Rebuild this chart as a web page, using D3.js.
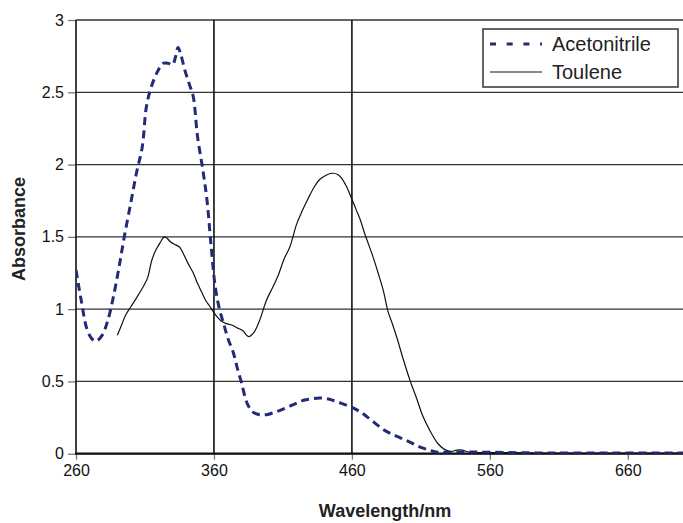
<!DOCTYPE html>
<html>
<head>
<meta charset="utf-8">
<script src="https://cdn.jsdelivr.net/npm/d3@7"></script>
<style>
  body { margin: 0; background: #fff; }
  svg { display: block; font-family: "Liberation Sans", Arial, sans-serif; }
</style>
</head>
<body>
<svg id="chart" width="683" height="523"></svg>
<script>
// absorbance spectra
var acetoWl  = [260, 264, 268, 272, 275, 279, 283, 287, 291, 295, 300, 304, 308, 311, 314, 317, 320, 323, 327, 330, 332, 334, 336, 339, 342, 345, 348, 352, 355, 358, 361, 364, 367, 370, 374, 377, 380, 384, 388, 393, 398, 405, 413, 420, 425, 431, 437, 442, 446, 452, 460, 466, 471, 477, 483, 489, 495, 502, 509, 516, 522, 530, 540, 560, 600, 650, 700];
var acetoAbs = [1.27, 1.05, 0.86, 0.79, 0.78, 0.82, 0.92, 1.08, 1.28, 1.50, 1.75, 1.95, 2.12, 2.40, 2.52, 2.60, 2.66, 2.70, 2.70, 2.69, 2.74, 2.81, 2.76, 2.65, 2.56, 2.47, 2.20, 1.96, 1.75, 1.43, 1.15, 1.00, 0.90, 0.80, 0.70, 0.59, 0.49, 0.35, 0.29, 0.27, 0.27, 0.29, 0.32, 0.35, 0.37, 0.38, 0.385, 0.38, 0.37, 0.35, 0.32, 0.29, 0.255, 0.21, 0.165, 0.135, 0.11, 0.08, 0.047, 0.025, 0.01, 0.01, 0.012, 0.01, 0.005, 0.005, 0.005];

var touleneWl  = [290, 293, 296, 300, 304, 309, 312, 315, 318, 321, 324, 326, 328, 331, 335, 338, 341, 345, 348, 351, 354, 357, 359, 362, 365, 369, 373, 377, 381, 385, 389, 393, 398, 402, 406, 411, 415, 420, 424, 428, 433, 437, 442, 446, 450, 453, 456, 460, 463, 466, 469, 472, 475, 479, 483, 486, 490, 493, 497, 502, 507, 511, 516, 522, 527, 532, 536, 540, 545, 560, 600, 650, 700];
var touleneAbs = [0.82, 0.89, 0.96, 1.02, 1.08, 1.16, 1.22, 1.34, 1.41, 1.46, 1.50, 1.49, 1.47, 1.45, 1.43, 1.38, 1.32, 1.25, 1.18, 1.12, 1.06, 1.02, 0.99, 0.95, 0.92, 0.90, 0.89, 0.87, 0.85, 0.81, 0.84, 0.92, 1.06, 1.14, 1.22, 1.35, 1.43, 1.59, 1.68, 1.76, 1.85, 1.90, 1.93, 1.94, 1.93, 1.90, 1.85, 1.76, 1.69, 1.62, 1.53, 1.45, 1.37, 1.25, 1.12, 0.99, 0.88, 0.79, 0.66, 0.51, 0.38, 0.27, 0.17, 0.074, 0.03, 0.015, 0.025, 0.025, 0.01, 0.008, 0.005, 0.005, 0.005];

var xTicks = [260, 360, 460, 560, 660];
var xLines = [360, 460];
var yTicks = [0, 0.5, 1, 1.5, 2, 2.5, 3];
var seriesNames = ["Acetonitrile", "Toulene"];

(function(){
    var svg = d3.select("#chart");
    var pl = 76, pr = 683, pt = 20, pb = 453.7;

    var x = d3.scaleLinear().domain([260, 700]).range([pl, pr]);
    var y = d3.scaleLinear().domain([0, 3]).range([pb, pt]);

    // horizontal grid
    svg.append("g").selectAll("line").data(yTicks).join("line")
        .attr("x1", pl).attr("x2", pr)
        .attr("y1", function(d){ return y(d); }).attr("y2", function(d){ return y(d); })
        .attr("stroke", "#333").attr("stroke-width", 1.3);

    // the two black verticals
    svg.append("g").selectAll("line").data(xLines).join("line")
        .attr("x1", function(d){ return x(d); }).attr("x2", function(d){ return x(d); })
        .attr("y1", pt).attr("y2", pb)
        .attr("stroke", "#111").attr("stroke-width", 1.6);

    // axes
    var yAxis = svg.append("g").attr("transform", "translate(" + pl + ",0)")
        .call(d3.axisLeft(y).tickValues(yTicks).tickFormat(d3.format("")).tickSize(8).tickPadding(4));
    var xAxis = svg.append("g").attr("transform", "translate(0," + pb + ")")
        .call(d3.axisBottom(x).tickValues(xTicks).tickSize(6).tickPadding(5));
    [yAxis, xAxis].forEach(function(a){
        a.attr("font-size", 16).attr("font-family", "Liberation Sans, Arial, sans-serif");
        a.select(".domain").remove();
        a.selectAll(".tick line").attr("stroke", "#777").attr("stroke-width", 1.3);
        a.selectAll(".tick text").attr("fill", "#111");
    });
    svg.append("line").attr("x1", pl).attr("x2", pl).attr("y1", pt).attr("y2", pb)
        .attr("stroke", "#111").attr("stroke-width", 1.6);
    svg.append("line").attr("x1", pl - 1).attr("x2", pr).attr("y1", pb).attr("y2", pb)
        .attr("stroke", "#111").attr("stroke-width", 2.2);

    svg.append("clipPath").attr("id", "plot").append("rect")
        .attr("x", pl).attr("y", pt - 5).attr("width", pr - pl).attr("height", pb - pt + 5);

    var line = d3.line().curve(d3.curveCatmullRom.alpha(0.5))
        .x(function(d){ return x(d[0]); }).y(function(d){ return y(d[1]); });

    var plot = svg.append("g").attr("clip-path", "url(#plot)");
    plot.append("path").datum(d3.zip(touleneWl, touleneAbs))
        .attr("d", line).attr("fill", "none").attr("stroke", "#111").attr("stroke-width", 1.2);
    plot.append("path").datum(d3.zip(acetoWl, acetoAbs))
        .attr("d", line).attr("fill", "none").attr("stroke", "#232a78")
        .attr("stroke-width", 3).attr("stroke-dasharray", "8,5");

    // legend
    var lg = svg.append("g");
    lg.append("rect").attr("x", 483).attr("y", 29).attr("width", 195).attr("height", 58)
        .attr("fill", "#fff").attr("stroke", "#333").attr("stroke-width", 1.5);
    lg.append("line").attr("x1", 490).attr("x2", 542).attr("y1", 44).attr("y2", 44)
        .attr("stroke", "#232a78").attr("stroke-width", 3).attr("stroke-dasharray", "6,10.7");
    lg.append("line").attr("x1", 490).attr("x2", 542).attr("y1", 72).attr("y2", 72)
        .attr("stroke", "#111").attr("stroke-width", 1.2);
    lg.selectAll("text").data(seriesNames).join("text")
        .attr("x", 552).attr("y", function(d, i){ return 44 + i * 28; })
        .attr("dominant-baseline", "central")
        .style("font-size", "20px").attr("fill", "#222")
        .text(function(d){ return d; });

    // titles
    svg.append("text").attr("x", 385).attr("y", 517).attr("text-anchor", "middle")
        .style("font-size", "18px").style("font-weight", "bold").attr("fill", "#222")
        .text("Wavelength/nm");
    svg.append("text").attr("transform", "translate(25,229) rotate(-90)").attr("text-anchor", "middle")
        .style("font-size", "18px").style("font-weight", "bold").attr("fill", "#222")
        .text("Absorbance");
})();
</script>
</body>
</html>
